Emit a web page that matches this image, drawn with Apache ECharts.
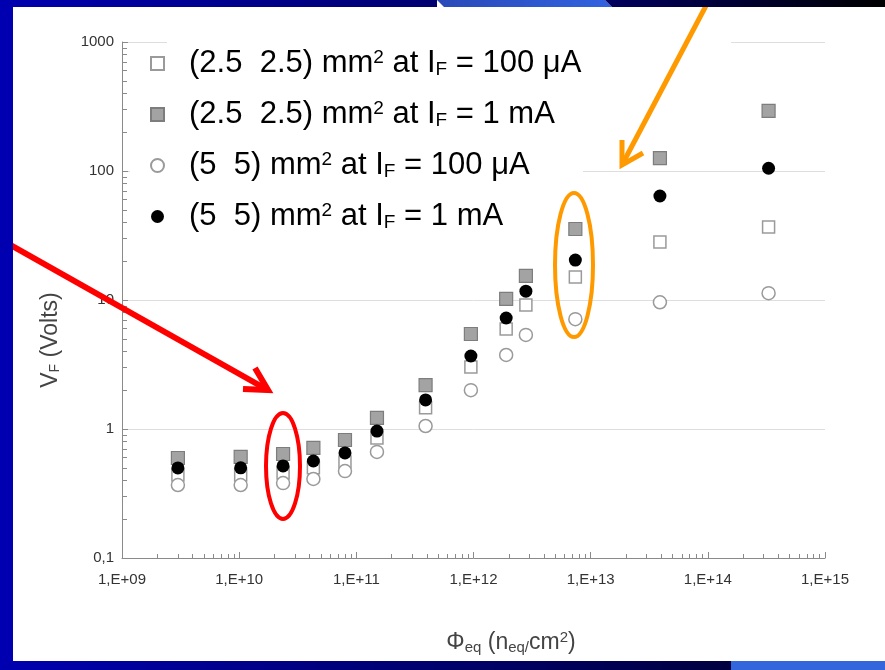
<!DOCTYPE html>
<html>
<head>
<meta charset="utf-8">
<script src="https://cdn.jsdelivr.net/npm/echarts@6/dist/echarts.min.js"></script>
<style>
  html, body { margin: 0; padding: 0; background: #fff; }
  #chart { width: 885px; height: 670px; }
</style>
</head>
<body>
<div id="chart"></div>
<script>
// fluence values (n_eq/cm2)
const fluence = [3e9, 1.03e10, 2.37e10, 4.3e10, 8e10, 1.5e11, 3.9e11, 9.5e11, 1.9e12, 2.8e12, 7.4e12, 3.9e13, 3.3e14]
// forward voltage V_F (Volts) per series
const small100uA = [0.44, 0.44, 0.456, 0.50, 0.555, 0.85, 1.46, 3.03, 5.96, 9.15, 15.1, 28.2, 36.8]
const small1mA = [0.596, 0.607, 0.64, 0.713, 0.822, 1.22, 2.19, 5.45, 10.2, 15.4, 35.5, 126, 292]
const large100uA = [0.368, 0.368, 0.381, 0.41, 0.472, 0.664, 1.055, 2.0, 3.75, 5.36, 7.1, 9.6, 11.3]
const large1mA = [0.499, 0.50, 0.517, 0.565, 0.652, 0.964, 1.68, 3.68, 7.25, 11.7, 20.4, 64, 105]

const seriesNames = ['small100uA', 'small1mA', 'large100uA', 'large1mA']
const legendTexts = [
  '(2.5  2.5) mm{sup|2} at I{sub|F} = 100 μA',
  '(2.5  2.5) mm{sup|2} at I{sub|F} = 1 mA',
  '(5  5) mm{sup|2} at I{sub|F} = 100 μA',
  '(5  5) mm{sup|2} at I{sub|F} = 1 mA'
]
const xTickLabels = ['1,E+09', '1,E+10', '1,E+11', '1,E+12', '1,E+13', '1,E+14', '1,E+15']
const yTickLabels = ['0,1', '1', '10', '100', '1000']

const FONT = 'Liberation Sans, Arial, sans-serif'
const chart = echarts.init(document.getElementById('chart'), null, { renderer: 'canvas' })

const pairs = (ys) => fluence.map((x, i) => [x, ys[i]])

const axisLine = { lineStyle: { color: '#8a8a8a', width: 1 } }

const option = {
  backgroundColor: '#fff',
  animation: false,
  grid: { left: 122, right: 60, top: 42, bottom: 112 },
  legend: {
    orient: 'vertical',
    left: 145,
    top: 40,
    itemGap: 16,
    itemWidth: 13,
    itemHeight: 13,
    backgroundColor: 'rgba(0,0,0,0)',
    data: seriesNames,
    formatter: (name) => legendTexts[seriesNames.indexOf(name)],
    textStyle: {
      fontFamily: FONT,
      fontSize: 31,
      color: '#000',
      padding: [0, 0, 0, 20],
      rich: {
        sup: { fontFamily: FONT, fontSize: 19, verticalAlign: 'top', lineHeight: 19, padding: [0, 0, 13, 0] },
        sub: { fontFamily: FONT, fontSize: 19, verticalAlign: 'bottom', lineHeight: 19, padding: [15, 0, 0, 0] }
      }
    }
  },
  xAxis: {
    type: 'log',
    logBase: 10,
    min: 1e9,
    max: 1e15,
    name: 'Φ{sub|eq} (n{sub|eq/}cm{sup|2})',
    nameLocation: 'middle',
    nameGap: 72,
    nameTextStyle: {
      fontFamily: FONT, fontSize: 23, color: '#444', padding: [0, 0, 0, 75],
      rich: {
        sub: { fontFamily: FONT, fontSize: 15, color: '#444', verticalAlign: 'bottom', padding: [10, 0, 0, 0] },
        sup: { fontFamily: FONT, fontSize: 15, color: '#444', verticalAlign: 'top', padding: [0, 0, 10, 0] }
      }
    },
    axisLine: axisLine,
    axisTick: { show: true, inside: true, length: 6, lineStyle: { color: '#8a8a8a' } },
    minorTick: { show: true, splitNumber: 9, length: 4, lineStyle: { color: '#8a8a8a' } },
    splitLine: { show: false },
    axisLabel: {
      fontFamily: FONT, fontSize: 15, color: '#333', margin: 14,
      formatter: (v) => xTickLabels[Math.round(Math.log10(v)) - 9]
    }
  },
  yAxis: {
    type: 'log',
    logBase: 10,
    min: 0.1,
    max: 1000,
    name: 'V{sub|F} (Volts)',
    nameLocation: 'middle',
    nameGap: 60,
    nameRotate: 90,
    nameTextStyle: {
      fontFamily: FONT, fontSize: 23, color: '#444', padding: [0, 80, 0, 0],
      rich: {
        sub: { fontFamily: FONT, fontSize: 14, color: '#444', verticalAlign: 'bottom', padding: [8, 0, 0, 0] }
      }
    },
    axisLine: axisLine,
    axisTick: { show: true, inside: true, length: 6, lineStyle: { color: '#8a8a8a' } },
    minorTick: { show: true, splitNumber: 9, length: 5, lineStyle: { color: '#8a8a8a' } },
    splitLine: { show: true, lineStyle: { color: '#dedede', width: 1 } },
    axisLabel: {
      fontFamily: FONT, fontSize: 15, color: '#333', margin: 8,
      formatter: (v) => yTickLabels[Math.round(Math.log10(v)) + 1]
    }
  },
  series: [
    {
      name: 'small100uA', type: 'scatter', symbol: 'rect', symbolSize: 12, z: 3,
      itemStyle: { color: '#fff', borderColor: '#9a9a9a', borderWidth: 1.5, opacity: 1 },
      data: pairs(small100uA)
    },
    {
      name: 'small1mA', type: 'scatter', symbol: 'rect', symbolSize: 13, z: 4,
      itemStyle: { color: '#a3a3a3', borderColor: '#7d7d7d', borderWidth: 1.2, opacity: 1 },
      data: pairs(small1mA)
    },
    {
      name: 'large100uA', type: 'scatter', symbol: 'circle', symbolSize: 13, z: 5,
      itemStyle: { color: '#fff', borderColor: '#9a9a9a', borderWidth: 1.5, opacity: 1 },
      data: pairs(large100uA)
    },
    {
      name: 'large1mA', type: 'scatter', symbol: 'circle', symbolSize: 13, z: 6,
      itemStyle: { color: '#000', borderColor: '#000', borderWidth: 0, opacity: 1 },
      data: pairs(large1mA)
    }
  ],
  graphic: [
    // white box behind legend hides grid lines
    { type: 'rect', z: 1, shape: { x: 130, y: 48, width: 453, height: 200 }, style: { fill: '#fff' } },
    { type: 'rect', z: 1, shape: { x: 167, y: 36, width: 564, height: 14 }, style: { fill: '#fff' } },
    // slide frame
    { type: 'rect', z: 100, shape: { x: 0, y: 0, width: 13, height: 670 }, style: { fill: '#0000b0' } },
    {
      type: 'rect', z: 100, shape: { x: 0, y: 0, width: 437, height: 7 },
      style: { fill: new echarts.graphic.LinearGradient(0, 0, 1, 0, [{ offset: 0, color: '#0000b0' }, { offset: 1, color: '#000070' }]) }
    },
    {
      type: 'polygon', z: 100, shape: { points: [[437, 0], [605, 0], [612, 7], [444, 7]] },
      style: { fill: new echarts.graphic.LinearGradient(0, 0, 1, 0, [{ offset: 0, color: '#2a4ab8' }, { offset: 1, color: '#3162e0' }]) }
    },
    {
      type: 'polygon', z: 100, shape: { points: [[605, 0], [885, 0], [885, 7], [612, 7]] },
      style: { fill: new echarts.graphic.LinearGradient(0, 0, 1, 0, [{ offset: 0, color: '#000060' }, { offset: 1, color: '#000000' }]) }
    },
    {
      type: 'rect', z: 100, shape: { x: 0, y: 661, width: 731, height: 9 },
      style: { fill: new echarts.graphic.LinearGradient(0, 0, 1, 0, [{ offset: 0, color: '#0000b0' }, { offset: 1, color: '#000040' }]) }
    },
    { type: 'rect', z: 100, shape: { x: 731, y: 661, width: 154, height: 9 }, style: { fill: '#3366dd' } },
    // red annotation
    {
      type: 'ellipse', z: 50, shape: { cx: 283, cy: 466, rx: 17, ry: 53 },
      style: { fill: 'none', stroke: '#ff0000', lineWidth: 4 }
    },
    {
      type: 'line', z: 50, shape: { x1: 0, y1: 239, x2: 266, y2: 389 },
      style: { stroke: '#ff0000', lineWidth: 6 }
    },
    {
      type: 'polyline', z: 50, shape: { points: [[243, 389], [268, 390], [255, 368]] },
      style: { stroke: '#ff0000', lineWidth: 6, fill: 'none', lineJoin: 'miter' }
    },
    // orange annotation
    {
      type: 'ellipse', z: 50, shape: { cx: 574, cy: 265, rx: 19, ry: 72 },
      style: { fill: 'none', stroke: '#ff9900', lineWidth: 4 }
    },
    {
      type: 'line', z: 50, shape: { x1: 709, y1: 0, x2: 623, y2: 163 },
      style: { stroke: '#ff9900', lineWidth: 5 }
    },
    {
      type: 'polyline', z: 50, shape: { points: [[622, 140], [622, 165], [643, 153]] },
      style: { stroke: '#ff9900', lineWidth: 5, fill: 'none', lineJoin: 'miter' }
    }
  ]
}

chart.setOption(option)
</script>
</body>
</html>
